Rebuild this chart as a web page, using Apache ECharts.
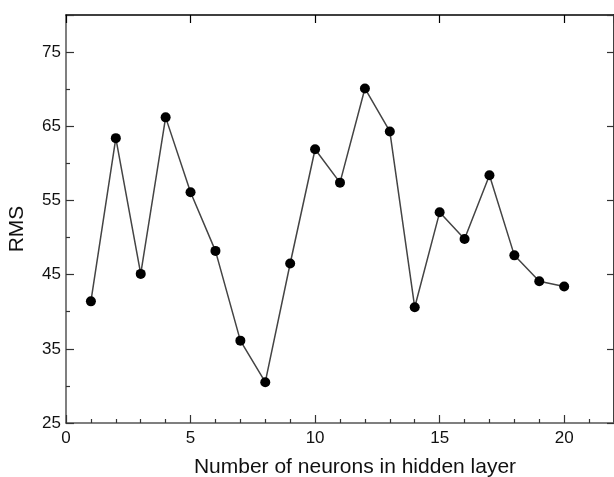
<!DOCTYPE html>
<html>
<head>
<meta charset="utf-8">
<script src="https://cdn.jsdelivr.net/npm/echarts@6/dist/echarts.min.js"></script>
<style>html,body{margin:0;padding:0;background:#fff;}#c{width:614px;height:477px;}</style>
</head>
<body>
<div id="c"></div>
<script>
const neurons = [1,2,3,4,5,6,7,8,9,10,11,12,13,14,15,16,17,18,19,20];
const rms = [41.4,63.4,45.1,66.2,56.1,48.2,36.1,30.5,46.5,61.9,57.4,70.1,64.3,40.6,53.4,49.8,58.4,47.6,44.1,43.4];
const xTitle = 'Number of neurons in hidden layer';
const yTitle = 'RMS';

const font = '"Liberation Sans", Arial, sans-serif';
const chart = echarts.init(document.getElementById('c'), null, {renderer:'canvas'});
chart.setOption({
  animation: false,
  backgroundColor: '#fff',
  grid: {left: 66, right: 0, top: 15, bottom: 54, containLabel: false, outerBoundsMode: 'none'},
  xAxis: [{
    type: 'value', min: 0, max: 22, interval: 5, position: 'bottom',
    name: xTitle, nameLocation: 'middle', nameGap: 34,
    nameTextStyle: {fontFamily: font, fontSize: 21, color: '#111', padding: [0,0,0,30]},
    axisLine: {show: true, onZero: false, lineStyle: {color: '#555', width: 1.5}},
    axisTick: {show: true, inside: true, length: 8, lineStyle: {color: '#333', width: 1.2}},
    minorTick: {show: true, splitNumber: 5, length: 4, lineStyle: {color: '#333', width: 1.2}},
    axisLabel: {fontFamily: font, fontSize: 17, color: '#111', margin: 7, showMaxLabel: false},
    splitLine: {show: false}
  }, {
    type: 'value', min: 0, max: 22, interval: 5, position: 'top',
    axisLine: {show: true, onZero: false, lineStyle: {color: '#000', width: 1.5}},
    axisTick: {show: true, inside: true, length: 8, lineStyle: {color: '#000', width: 1.2}},
    axisLabel: {show: false},
    splitLine: {show: false}
  }],
  yAxis: [{
    type: 'value', min: 25, max: 80, interval: 10, position: 'left',
    name: yTitle, nameLocation: 'middle', nameGap: 38, nameRotate: 90,
    nameTextStyle: {fontFamily: font, fontSize: 21, color: '#111', padding: [0,20,0,0]},
    axisLine: {show: true, onZero: false, lineStyle: {color: '#555', width: 1.5}},
    axisTick: {show: true, inside: true, length: 8, lineStyle: {color: '#333', width: 1.2}},
    minorTick: {show: true, splitNumber: 2, length: 4, lineStyle: {color: '#333', width: 1.2}},
    axisLabel: {fontFamily: font, fontSize: 17, color: '#111', margin: 5, showMaxLabel: false},
    splitLine: {show: false}
  }, {
    type: 'value', min: 25, max: 80, interval: 10, position: 'right',
    axisLine: {show: true, onZero: false, lineStyle: {color: '#000', width: 1.5}},
    axisTick: {show: true, inside: true, length: 7, lineStyle: {color: '#333', width: 1.2}},
    axisLabel: {show: false},
    splitLine: {show: false}
  }],
  series: [{
    type: 'line',
    data: neurons.map((n, i) => [n, rms[i]]),
    symbol: 'circle', symbolSize: 10,
    itemStyle: {color: '#000'},
    lineStyle: {color: '#444', width: 1.5},
    z: 3
  }]
});
</script>
</body>
</html>
